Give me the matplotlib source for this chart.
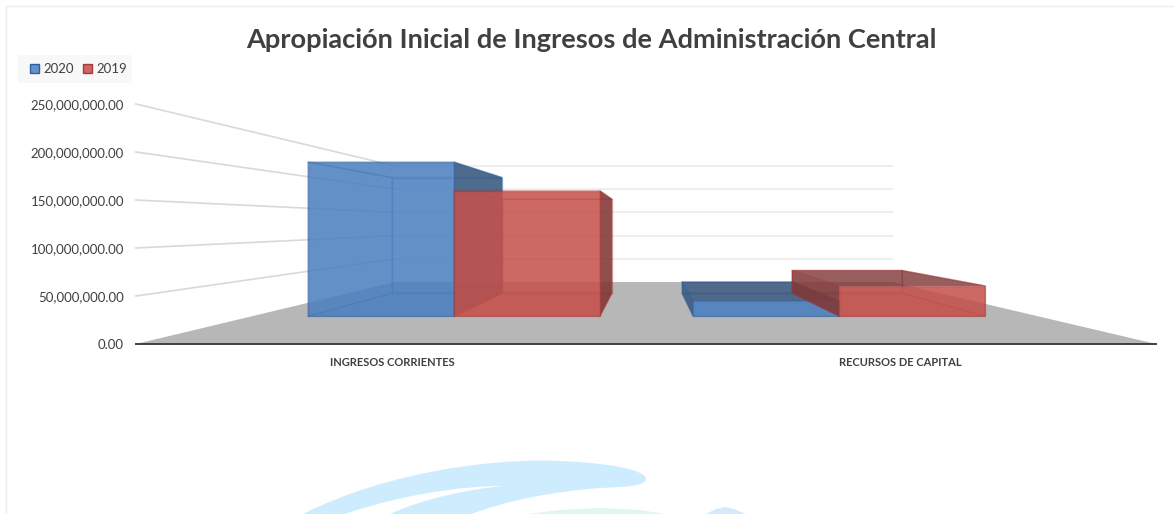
import matplotlib
matplotlib.use("Agg")
import matplotlib.pyplot as plt
from matplotlib.colors import to_rgba
from matplotlib.patches import Polygon, PathPatch, Rectangle
from matplotlib.path import Path

title = "Apropiación Inicial de Ingresos de Administración Central"
categories = ["INGRESOS CORRIENTES", "RECURSOS DE CAPITAL"]
series_names = ["2020", "2019"]
values_2020 = [209e6, 20.5e6]
values_2019 = [170e6, 41e6]
y_ticks = [0, 50e6, 100e6, 150e6, 200e6, 250e6]

W, H = 1174, 514
BAR_W = 0.379
D_FRONT, D_BACK = 0.45, 0.82
U_MIN, U_MAX = -0.019, 2.019


def project(u, v, d):
    """Category position u, value v, depth d -> picture coordinates."""
    x = 145.4 + 258.0 * d + (500.6 - 256.8 * d) * u
    y = (344 - 62 * d) - v / 50e6 * (48 - 24.8 * d)
    return x, y


plt.rcParams["font.family"] = ["Lato", "Open Sans", "DejaVu Sans"]
fig = plt.figure(figsize=(W / 100, H / 100), dpi=100, facecolor="white")
ax = fig.add_axes([0, 0, 1, 1])
ax.set_xlim(0, W)
ax.set_ylim(H, 0)
ax.axis("off")

# faint watermark at the bottom
swoosh = Path(
    [(303, 514), (390, 470), (500, 458), (560, 461), (610, 463), (646, 470), (646, 479),
     (646, 486), (625, 487), (600, 488), (550, 492), (510, 500), (471, 514),
     (390, 514), (425, 498), (470, 489), (504, 486), (460, 486), (400, 495), (345, 514),
     (303, 514)],
    [Path.MOVETO, Path.CURVE4, Path.CURVE4, Path.CURVE4, Path.CURVE4, Path.CURVE4, Path.CURVE4,
     Path.CURVE4, Path.CURVE4, Path.CURVE4, Path.CURVE4, Path.CURVE4, Path.CURVE4,
     Path.LINETO, Path.CURVE4, Path.CURVE4, Path.CURVE4, Path.CURVE4, Path.CURVE4, Path.CURVE4,
     Path.CLOSEPOLY])
ax.add_patch(PathPatch(swoosh, fc="#cdedfe", ec="none", zorder=0))
ax.add_patch(Polygon([(528, 514), (560, 510), (600, 508), (640, 510), (665, 514)], fc="#ddf8ec", ec="none", zorder=0))
ax.add_patch(Polygon([(706, 514), (716, 509), (725, 507), (734, 509), (746, 514)], fc="#d3e9fe", ec="none", zorder=0))

# chart frame
ax.plot([6, 6, W], [H, 6, 6], color="#e8eef4", lw=1, zorder=1)

# floor
floor = [project(U_MIN, 0, 0), project(U_MAX, 0, 0), project(U_MAX - 0.015, 0, 1), project(U_MIN - 0.015, 0, 1)]
ax.add_patch(Polygon(floor, fc="#b7b7b7", ec="none", zorder=1))

# gridlines on the side and back walls
for v in y_ticks[1:]:
    p0, p1, p2 = project(U_MIN, v, 0), project(U_MIN - 0.015, v, 1), project(U_MAX - 0.015, v, 1)
    ax.plot([p0[0], p1[0]], [p0[1], p1[1]], color="#d9d9d9", lw=1.2, zorder=2)
    ax.plot([p1[0], p2[0]], [p1[1], p2[1]], color="#ebebeb", lw=1.2, zorder=2)

# category axis
a0, a1 = project(U_MIN, 0, 0), project(U_MAX, 0, 0)
ax.plot([a0[0], a1[0]], [a0[1], a1[1]], color="#404040", lw=1.4, zorder=3)

for v in y_ticks:
    x, y = project(U_MIN, v, 0)
    ax.text(124, y + 0.8, f"{v:,.2f}", ha="right", va="center", fontsize=9.5, color="#404040")


def box(u0, u1, v, front, side, edge, z):
    def q(*pts):
        return [project(*p) for p in pts]
    f, b = D_FRONT, D_BACK
    # the faces turned away from the viewer stay almost clear
    left_seen = project(u0, v, b)[0] < project(u0, v, f)[0]
    right_seen = project(u1, v, b)[0] > project(u1, v, f)[0]
    top_seen = project(u0, v, b)[1] < project(u0, v, f)[1]
    faces = [
        (q((u0, 0, b), (u1, 0, b), (u1, v, b), (u0, v, b)), front, 0.04),
        (q((u0, 0, f), (u1, 0, f), (u1, 0, b), (u0, 0, b)), front, 0.18),
        (q((u0, 0, f), (u0, v, f), (u0, v, b), (u0, 0, b)), side, 0.85 if left_seen else 0.03),
        (q((u1, 0, f), (u1, v, f), (u1, v, b), (u1, 0, b)), side, 0.88 if right_seen else 0.03),
        (q((u0, v, f), (u1, v, f), (u1, v, b), (u0, v, b)), side, 0.80 if top_seen else 0.03),
        (q((u0, 0, f), (u1, 0, f), (u1, v, f), (u0, v, f)), front, 0.86),
    ]
    for i, (pts, color, alpha) in enumerate(faces):
        ax.add_patch(Polygon(pts, fc=to_rgba(color, alpha), ec=to_rgba(edge, 0.4), lw=1.0,
                             joinstyle="round", zorder=z + i * 0.01))


BLUE = dict(front="#4b7fbf", side="#37587f", edge="#2f5f9e")
RED = dict(front="#c5514b", side="#7f3737", edge="#a63a3a")
for i in range(len(categories)):
    c = i + 0.5
    box(c - BAR_W, c, values_2020[i], z=4, **BLUE)
    box(c, c + BAR_W, values_2019[i], z=5, **RED)
    ax.text([392, 900][i], 362, categories[i], ha="center", va="center",
            fontsize=8, fontweight="bold", color="#404040")

# title
ax.text(591, 39.5, title, ha="center", va="center", fontsize=19.6, fontweight="bold", color="#404040")

# legend
ax.add_patch(Rectangle((18, 55), 114, 28, fc="#f8f8f8", ec="none", zorder=1))
for x0, name, fc, ec in [(30, series_names[0], "#6392c8", "#2f5f9e"), (83, series_names[1], "#cd6764", "#a63a3a")]:
    ax.add_patch(Rectangle((x0, 64), 9, 9, fc=fc, ec=ec, lw=1, zorder=2))
    ax.text(x0 + 13, 68.7, name, ha="left", va="center", fontsize=9.5, color="#404040", zorder=2)

fig.savefig("out.png", dpi=100)
